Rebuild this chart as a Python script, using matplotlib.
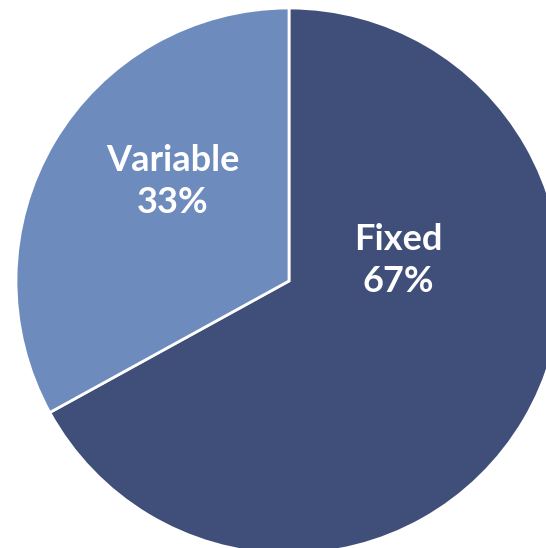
import matplotlib
matplotlib.use('Agg')
from matplotlib import pyplot as plt

# Datos del gráfico
categorias = ['Fixed', 'Variable']
valores = [67, 33]
colores = ['#3F4F79', '#6E8BBD']

fig = plt.figure(figsize=(5.46, 5.48), dpi=100)
ax = fig.add_axes([0, 0, 1, 1])

# radio 273 px, centro en (289, 281) px
r = 273.0
ax.pie(valores, colors=colores, startangle=90, counterclock=False,
       radius=1.0, wedgeprops=dict(edgecolor='white', linewidth=2))
ax.set_xlim(-289 / r, 257 / r)
ax.set_ylim((281 - 548) / r, 281 / r)
ax.set_aspect('equal')
ax.axis('off')

# posiciones de las etiquetas (como las coloca Excel)
pos_etiquetas = [(0.40, 0.075), (-0.425, 0.365)]
for cat, val, (x, y) in zip(categorias, valores, pos_etiquetas):
    ax.text(x, y, f'{cat}\n{val}%', ha='center', va='center', color='white',
            fontsize=26, fontweight='bold', family='Lato', linespacing=1.35)

fig.savefig('out.png', dpi=100)
